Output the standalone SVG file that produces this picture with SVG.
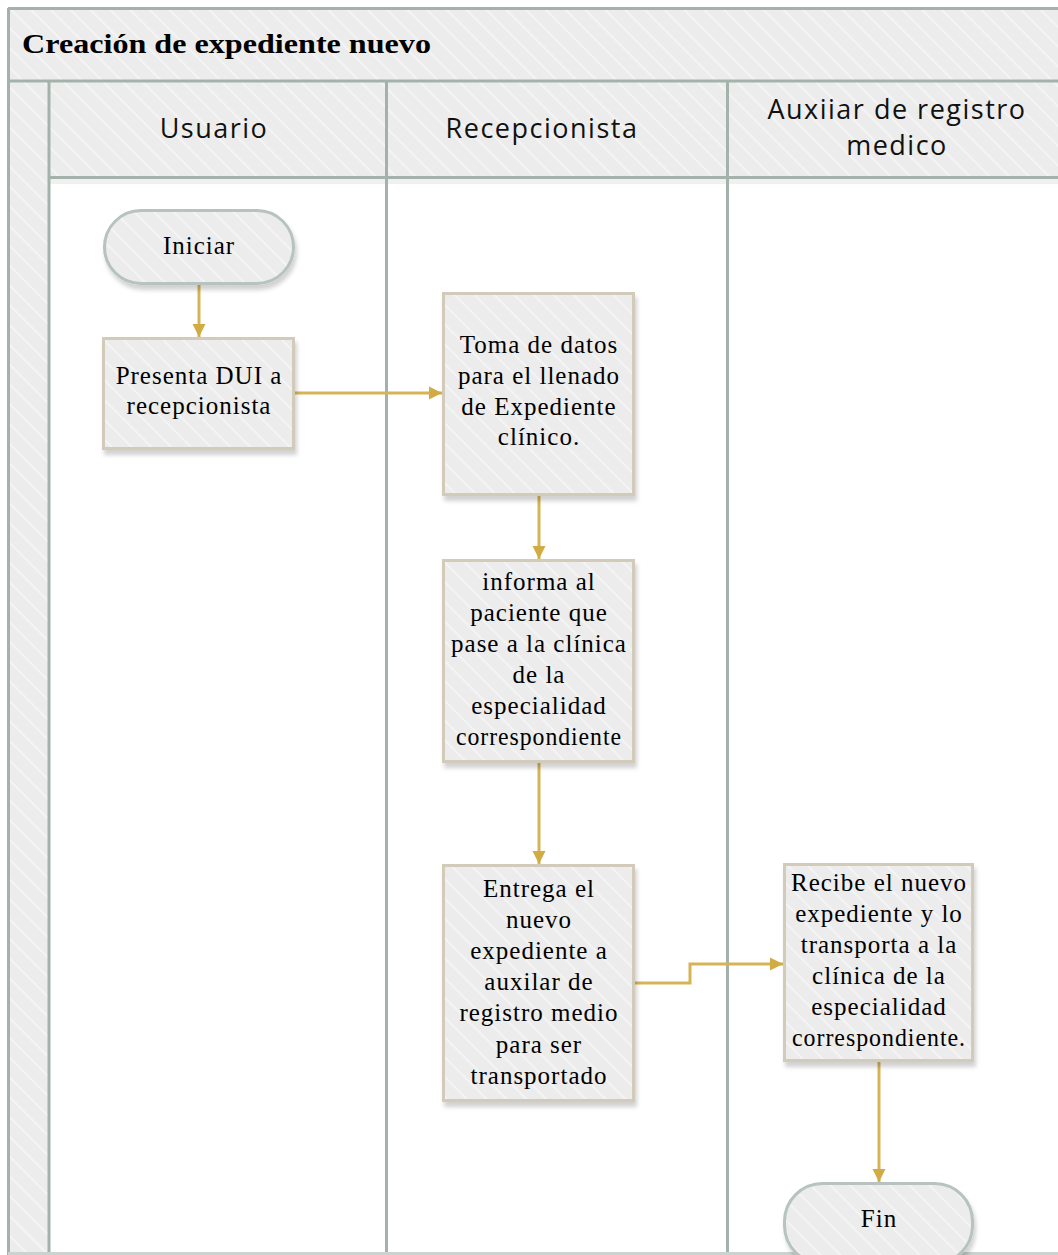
<svg xmlns="http://www.w3.org/2000/svg" width="1058" height="1255" viewBox="0 0 1058 1255">
  <defs>
    <style>
      .band { fill: url(#hatch); }
      .frame { fill: none; stroke: #a3b3ab; stroke-width: 3; }
      .node { fill: url(#hatch); stroke: #d3cbb9; stroke-width: 3; filter: url(#shadow); }
      .term { fill: url(#hatch); stroke: #b6c3be; stroke-width: 3; filter: url(#shadow); }
      .ntext { font-family: "Liberation Serif", "Times New Roman", serif; font-size: 25px; fill: #000; text-anchor: middle; letter-spacing: 1px; }
      .htext { font-family: "Open Sans", "Liberation Sans", sans-serif; font-size: 27px; fill: #111; text-anchor: middle; letter-spacing: 1.5px; }
      .title { font-family: "Liberation Serif", "Times New Roman", serif; font-size: 27px; font-weight: bold; fill: #000; }
      .flow { fill: none; stroke: #d6b455; stroke-width: 3; marker-end: url(#arrow); }
    </style>
    <!-- light grey fill with faint diagonal stripes -->
    <pattern id="hatch" patternUnits="userSpaceOnUse" width="14" height="14" patternTransform="rotate(-45)">
      <rect width="14" height="14" fill="#ececec"/>
      <rect x="0" y="0" width="2" height="14" fill="#f4f4f4"/>
    </pattern>
    <filter id="shadow" x="-10%" y="-10%" width="125%" height="125%">
      <feDropShadow dx="2" dy="5" stdDeviation="2" flood-color="#000" flood-opacity="0.18"/>
    </filter>
    <marker id="arrow" viewBox="0 0 10 10" refX="10" refY="5" markerWidth="4.5" markerHeight="4.5" orient="auto" markerUnits="strokeWidth">
      <path d="M0,0 L10,5 L0,10 z" fill="#d1ac45"/>
    </marker>
  </defs>

  <rect width="1058" height="1255" fill="#ffffff"/>

  <!-- pool title band, header row and left strip -->
  <g id="pool">
    <rect class="band" x="8" y="8" width="1052" height="73"/>
    <rect class="band" x="8" y="81" width="1052" height="97"/>
    <rect class="band" x="8" y="81" width="40" height="1174"/>
    <rect x="48" y="179" width="1012" height="5" fill="#000" opacity="0.06"/>
    <line class="frame" x1="8" y1="8.5" x2="1060" y2="8.5"/>
    <line class="frame" x1="8.5" y1="8" x2="8.5" y2="1255"/>
    <line class="frame" x1="8" y1="81" x2="1060" y2="81"/>
    <line class="frame" x1="49" y1="81" x2="49" y2="1255"/>
    <line class="frame" x1="48" y1="177.5" x2="1060" y2="177.5"/>
    <line class="frame" x1="386.5" y1="81" x2="386.5" y2="1255"/>
    <line class="frame" x1="727.5" y1="81" x2="727.5" y2="1255"/>
    <line x1="8" y1="1253.5" x2="1060" y2="1253.5" stroke="#c9d3cf" stroke-width="3"/>
    <text class="title" x="22" y="53" textLength="409" lengthAdjust="spacingAndGlyphs">Creación de expediente nuevo</text>
  </g>

  <!-- lane headers -->
  <g id="lane-usuario">
    <text class="htext" x="214" y="138">Usuario</text>
  </g>
  <g id="lane-recepcionista">
    <text class="htext" x="542" y="138">Recepcionista</text>
  </g>
  <g id="lane-auxiliar">
    <text class="htext" x="897" y="119">Auxiiar de registro</text>
    <text class="htext" x="897" y="155">medico</text>
  </g>

  <!-- connectors -->
  <g id="connectors">
    <path class="flow" d="M199,284 L199,337"/>
    <path class="flow" d="M295,393 L442,393"/>
    <path class="flow" d="M539,496 L539,559"/>
    <path class="flow" d="M539,763 L539,864"/>
    <path class="flow" d="M635,983 L690,983 L690,964 L783,964"/>
    <path class="flow" d="M879,1062 L879,1182"/>
  </g>

  <!-- nodes -->
  <g id="node-iniciar">
    <rect class="term" x="104.5" y="210.5" width="189" height="73" rx="36.5" ry="36.5"/>
    <text class="ntext" x="199" y="254">Iniciar</text>
  </g>

  <g id="node-presenta">
    <rect class="node" x="103.5" y="338.5" width="190" height="110"/>
    <text class="ntext" x="199" y="384">Presenta DUI a</text>
    <text class="ntext" x="199" y="414">recepcionista</text>
  </g>

  <g id="node-toma">
    <rect class="node" x="443.5" y="293.5" width="190" height="201"/>
    <text class="ntext" x="539" y="353">Toma de datos</text>
    <text class="ntext" x="539" y="384">para el llenado</text>
    <text class="ntext" x="539" y="415">de Expediente</text>
    <text class="ntext" x="539" y="445">clínico.</text>
  </g>

  <g id="node-informa">
    <rect class="node" x="443.5" y="560.5" width="190" height="201"/>
    <text class="ntext" x="539" y="590">informa al</text>
    <text class="ntext" x="539" y="621">paciente que</text>
    <text class="ntext" x="539" y="652">pase a la clínica</text>
    <text class="ntext" x="539" y="683">de la</text>
    <text class="ntext" x="539" y="714">especialidad</text>
    <text class="ntext" x="539" y="745" textLength="166" lengthAdjust="spacingAndGlyphs">correspondiente</text>
  </g>

  <g id="node-entrega">
    <rect class="node" x="443.5" y="865.5" width="190" height="235"/>
    <text class="ntext" x="539" y="897">Entrega el</text>
    <text class="ntext" x="539" y="928">nuevo</text>
    <text class="ntext" x="539" y="959">expediente a</text>
    <text class="ntext" x="539" y="990">auxilar de</text>
    <text class="ntext" x="539" y="1021">registro medio</text>
    <text class="ntext" x="539" y="1053">para ser</text>
    <text class="ntext" x="539" y="1084">transportado</text>
  </g>

  <g id="node-recibe">
    <rect class="node" x="784.5" y="864.5" width="188" height="196"/>
    <text class="ntext" x="879" y="891">Recibe el nuevo</text>
    <text class="ntext" x="879" y="922">expediente y lo</text>
    <text class="ntext" x="879" y="953">transporta a la</text>
    <text class="ntext" x="879" y="984">clínica de la</text>
    <text class="ntext" x="879" y="1015">especialidad</text>
    <text class="ntext" x="879" y="1046" textLength="174" lengthAdjust="spacingAndGlyphs">correspondiente.</text>
  </g>

  <g id="node-fin">
    <rect class="term" x="784.5" y="1183.5" width="188" height="80" rx="38" ry="38"/>
    <text class="ntext" x="879" y="1227">Fin</text>
  </g>
</svg>
